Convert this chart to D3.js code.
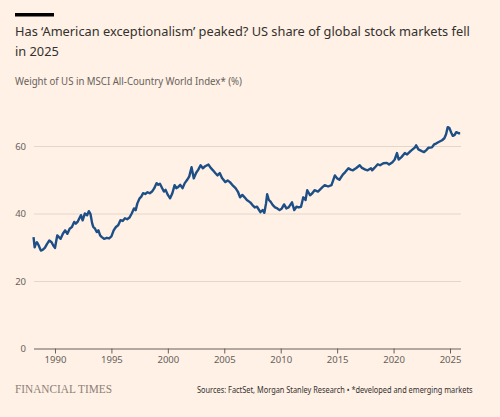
<!DOCTYPE html>
<html>
<head>
<meta charset="utf-8">
<script src="https://cdn.jsdelivr.net/npm/d3@7"></script>
<style>
  html, body { margin: 0; padding: 0; background: #fff1e5; }
  svg { display: block; }
  text { font-family: "Noto Sans", sans-serif; }
</style>
</head>
<body>
<div id="chart"></div>
<script>
var width = 500;
var height = 417;

// US weight in MSCI ACWI (%)
var years = [
  1988.1, 1988.2, 1988.3, 1988.4, 1988.55, 1988.75, 1988.9, 1989.1, 1989.3, 1989.5,
  1989.7, 1989.85, 1990.0, 1990.2, 1990.35, 1990.5, 1990.7, 1990.9, 1991.1, 1991.3,
  1991.5, 1991.7, 1991.85, 1992.0, 1992.15, 1992.3, 1992.45, 1992.65, 1992.85, 1993.0,
  1993.15, 1993.3, 1993.4, 1993.55, 1993.7, 1993.85, 1994.0, 1994.15, 1994.35, 1994.6,
  1994.8, 1995.0, 1995.2, 1995.4, 1995.6, 1995.8, 1996.0, 1996.2, 1996.4, 1996.6,
  1996.8, 1997.0, 1997.15, 1997.3, 1997.5, 1997.65, 1997.8, 1998.0, 1998.2, 1998.4,
  1998.6, 1998.8, 1999.0, 1999.15, 1999.3, 1999.5, 1999.65, 1999.8, 2000.0, 2000.2,
  2000.4, 2000.6, 2000.75, 2000.9, 2001.1, 2001.3, 2001.5, 2001.7, 2001.9, 2002.1,
  2002.3, 2002.5, 2002.7, 2002.9, 2003.1, 2003.3, 2003.6, 2003.8, 2004.0, 2004.2,
  2004.4, 2004.6, 2004.8, 2005.1, 2005.3, 2005.5, 2005.7, 2006.0, 2006.2, 2006.4,
  2006.6, 2006.8, 2007.0, 2007.3, 2007.5, 2007.7, 2007.9, 2008.2, 2008.4, 2008.55,
  2008.7, 2008.8, 2008.95, 2009.1, 2009.3, 2009.5, 2009.7, 2009.9, 2010.1, 2010.3,
  2010.5, 2010.7, 2011.0, 2011.2, 2011.4, 2011.6, 2011.8, 2012.0, 2012.2, 2012.35,
  2012.6, 2012.8, 2013.0, 2013.3, 2013.7, 2013.9, 2014.2, 2014.5, 2014.8, 2015.0,
  2015.2, 2015.5, 2015.7, 2016.0, 2016.2, 2016.4, 2016.7, 2017.0, 2017.2, 2017.5,
  2017.7, 2018.0, 2018.1, 2018.3, 2018.6, 2018.8, 2019.1, 2019.4, 2019.6, 2019.9,
  2020.1, 2020.3, 2020.45, 2020.7, 2021.0, 2021.2, 2021.5, 2021.9, 2022.0, 2022.2,
  2022.5, 2022.7, 2022.9, 2023.1, 2023.4, 2023.6, 2023.8, 2024.0, 2024.3, 2024.5,
  2024.65, 2024.8, 2024.95, 2025.1, 2025.25, 2025.4, 2025.55, 2025.75, 2025.9
];
var weights = [
  33.0, 30.0, 31.0, 31.5, 30.6, 29.0, 29.2, 29.8, 31.0, 32.0,
  31.5, 30.5, 29.8, 33.5, 33.0, 32.5, 34.0, 35.0, 34.0, 35.5,
  36.0, 37.5, 37.0, 37.5, 38.5, 39.5, 38.0, 40.0, 39.5, 40.7,
  39.8, 37.0, 36.0, 35.5, 34.5, 35.0, 33.5, 33.0, 32.5, 32.8,
  32.6, 33.2, 35.0, 36.0, 36.5, 38.0, 37.8, 38.6, 38.3, 38.8,
  40.0, 41.5, 41.0, 43.0, 44.5, 45.0, 46.0, 45.8, 46.3, 46.0,
  46.5, 47.5, 49.0, 48.5, 48.8, 47.5, 46.5, 47.0, 45.5, 44.5,
  46.0, 48.4, 47.5, 47.8, 48.5, 47.5, 49.0, 49.9, 51.0, 53.7,
  50.4, 52.0, 53.0, 54.3, 53.4, 54.0, 54.5, 53.5, 52.8, 52.0,
  51.3, 52.0, 50.5, 49.3, 49.8, 49.3, 48.5, 47.5, 46.5, 44.8,
  45.5, 44.8, 44.0, 43.3, 42.5, 41.8, 42.0, 40.4, 41.0, 40.2,
  43.0, 45.7, 44.0, 43.5, 42.5, 41.8, 41.5, 41.0, 41.5, 42.7,
  41.5, 41.8, 43.3, 41.0, 42.0, 41.8, 42.0, 44.8, 44.0, 46.9,
  45.4, 46.0, 46.9, 46.5, 47.8, 48.4, 48.0, 48.4, 51.3, 50.4,
  50.0, 51.5, 52.2, 53.4, 53.0, 52.8, 53.5, 54.3, 53.5, 53.0,
  52.8, 53.4, 52.8, 53.5, 54.6, 54.3, 54.9, 55.0, 54.5, 55.2,
  56.0, 57.9, 56.0, 56.7, 57.9, 57.5, 58.5, 59.6, 60.2, 59.0,
  58.5, 58.2, 58.8, 59.5, 59.6, 60.5, 60.8, 61.2, 61.7, 62.3,
  63.5, 65.6, 65.3, 64.0, 63.0, 63.2, 64.1, 63.8, 63.8
];
var yTicks = [0, 20, 40, 60];
var xTicks = [1990, 1995, 2000, 2005, 2010, 2015, 2020, 2025];

var titleLines = [
  "Has \u2018American exceptionalism\u2019 peaked? US share of global stock markets fell",
  "in 2025"
];
var subtitle = "Weight of US in MSCI All-Country World Index* (%)";
var source = "Sources: FactSet, Morgan Stanley Research \u2022 *developed and emerging markets";

var data = years.map(function (y, i) { return { year: y, value: weights[i] }; });

var svg = d3.select("#chart")
  .append("svg")
  .attr("width", width)
  .attr("height", height);

svg.append("rect")
  .attr("width", width)
  .attr("height", height)
  .attr("fill", "#fff1e5");

// place a text at (x, y) and squeeze it horizontally to the width it has
// in the picture (FT's own font is narrower than anything installed here)
function placeText(sel, x, y, target, sx) {
  if (sx === undefined) {
    var len = sel.node().getComputedTextLength();
    sx = len > target ? target / len : 1;
  }
  sel.attr("x", 0).attr("y", 0)
    .attr("transform", "translate(" + x + "," + y + ") scale(" + sx + ",1)");
  return sx;
}

// scales
var xScale = d3.scaleLinear().domain([1988, 2026]).range([32.4, 461.3]);
var yScale = d3.scaleLinear().domain([0, 60]).range([348.5, 146]);

// header
svg.append("rect")
  .attr("x", 15).attr("y", 13)
  .attr("width", 39).attr("height", 3.5)
  .attr("fill", "#000");

var titles = svg.selectAll(".title")
  .data(titleLines)
  .enter()
  .append("text")
  .attr("class", "title")
  .attr("fill", "#33302e")
  .style("font-size", "13.4px")
  .text(function (d) { return d; });
var titleScale = placeText(titles.filter(function (d, i) { return i === 0; }), 15, 36, 455);
placeText(titles.filter(function (d, i) { return i === 1; }), 15, 55.5, 455, titleScale);

var sub = svg.append("text")
  .attr("fill", "#66605c")
  .style("font-size", "10.2px")
  .text(subtitle);
placeText(sub, 15, 85, 227);

// gridlines + y labels
var yAxis = d3.axisLeft(yScale)
  .tickValues(yTicks)
  .tickSize(-(461 - 34))
  .tickPadding(8);

var gY = svg.append("g")
  .attr("transform", "translate(34,0)")
  .call(yAxis);
gY.select(".domain").remove();
gY.selectAll(".tick line")
  .attr("stroke", function (d) { return d === 0 ? "#66605c" : "#e3d6ca"; })
  .attr("stroke-width", 1);
gY.selectAll(".tick text")
  .attr("fill", "#66605c")
  .style("font-size", "9.5px")
  .style("font-family", "'Noto Sans', sans-serif");

// x axis
var xAxis = d3.axisBottom(xScale)
  .tickValues(xTicks)
  .tickFormat(d3.format("d"))
  .tickSize(5)
  .tickPadding(3);

var gX = svg.append("g")
  .attr("transform", "translate(0," + yScale(0) + ")")
  .call(xAxis);
gX.select(".domain").remove();
gX.selectAll(".tick line").attr("stroke", "#66605c");
gX.selectAll(".tick text")
  .attr("fill", "#66605c")
  .style("font-size", "9.5px")
  .style("font-family", "'Noto Sans', sans-serif");

// the line
var line = d3.line()
  .x(function (d) { return xScale(d.year); })
  .y(function (d) { return yScale(d.value); });

svg.append("path")
  .datum(data)
  .attr("fill", "none")
  .attr("stroke", "#1d4f86")
  .attr("stroke-width", 2.4)
  .attr("stroke-linejoin", "round")
  .attr("d", line);

// footer
var logo = svg.append("text")
  .attr("fill", "#8c8078")
  .style("font-family", "'Liberation Serif', serif")
  .style("font-size", "11.5px")
  .text("FINANCIAL TIMES");
placeText(logo, 15, 393, 97);

var src = svg.append("text")
  .attr("fill", "#33302e")
  .style("font-size", "8.6px")
  .text(source);
placeText(src, 197, 393, 276);
</script>
</body>
</html>
